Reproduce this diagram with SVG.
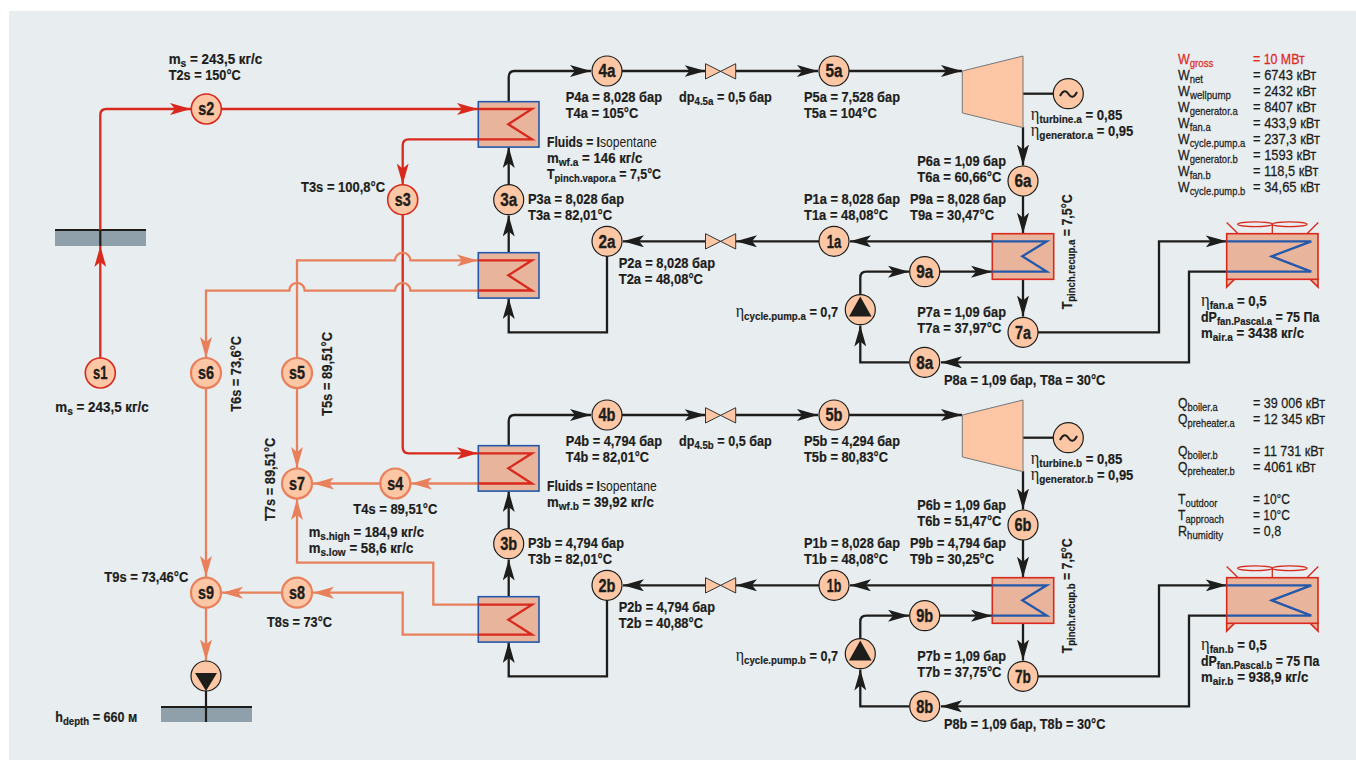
<svg xmlns="http://www.w3.org/2000/svg" width="1356" height="760" viewBox="0 0 1356 760">
<style>
text{font-family:"Liberation Sans","DejaVu Sans",sans-serif;fill:#1d1d1b}
.t{font-size:15px;font-weight:700;stroke:#1d1d1b;stroke-width:.2}
.r{font-size:15px;font-weight:400;stroke:#1d1d1b;stroke-width:.25}
.red{fill:#dd2a1e;stroke:#dd2a1e}
.s{font-size:11.5px}
.e{font-family:"Liberation Serif",serif;font-size:19px;font-weight:400;stroke:none}
.l{font-weight:400;stroke:none}
.n{font-size:17.5px;font-weight:700;text-anchor:middle;stroke:#1d1d1b;stroke-width:.35}
.c{fill:none;stroke-width:2.3}
.kc{stroke:#1d1d1b;marker-end:url(#ak)}
.hc{stroke:#d9291c;marker-end:url(#ah)}
.wc{stroke:#e8805c;marker-end:url(#aw)}
.pl{stroke:#1d1d1b;fill:none;stroke-width:2.3}
.nk{fill:#fdc6a4;stroke:#1d1d1b;stroke-width:1.2}
.nh{fill:#fdc6a4;stroke:#d9291c;stroke-width:1.6}
.nw{fill:#fdc6a4;stroke:#e8805c;stroke-width:2.2}
.hx{fill:#e8b59c;stroke:#2458ab;stroke-width:1.6}
.hr{fill:#e8b59c;stroke:#d9291c;stroke-width:1.6}
.cr{fill:none;stroke:#d9291c;stroke-width:2.3}
.cb{fill:none;stroke:#2458ab;stroke-width:2.3}
.v{fill:#fdc6a4;stroke:#333;stroke-width:1}
.f{fill:none;stroke:#d9291c;stroke-width:1.3}
.g{fill:#90a0aa}
.d{stroke:#1d1d1b;stroke-width:2.2}
</style>
<defs>
<marker id="ak" markerUnits="userSpaceOnUse" markerWidth="21" markerHeight="12" viewBox="0 0 21 12" refX="21" refY="6" orient="auto"><path d="M21,6 L0,0 L5,6 L0,12 Z" fill="#1d1d1b"/></marker>
<marker id="ah" markerUnits="userSpaceOnUse" markerWidth="21" markerHeight="12" viewBox="0 0 21 12" refX="21" refY="6" orient="auto"><path d="M21,6 L0,0 L5,6 L0,12 Z" fill="#d9291c"/></marker>
<marker id="aw" markerUnits="userSpaceOnUse" markerWidth="21" markerHeight="12" viewBox="0 0 21 12" refX="21" refY="6" orient="auto"><path d="M21,6 L0,0 L5,6 L0,12 Z" fill="#e8805c"/></marker>
</defs>
<rect x="9" y="11" width="1347" height="749" fill="#e8edf0"/>

<g id="ground-top"><rect class="g" x="55" y="230" width="91" height="16"/><path class="d" d="M55,230H146M100.3,230V246"/></g>
<g id="ground-bottom"><rect class="g" x="161" y="707" width="91" height="15"/><path class="d" d="M161,707H252M206,691V722"/></g>

<g id="connectors">
<path class="c hc" d="M100.3,358V246"/>
<path class="c hc" d="M100.3,230V115Q100.3,109 106.3,109H191"/>
<path class="c hc" d="M221,109H478"/>
<path class="c hc" d="M478,139.3H408.7Q402.7,139.3 402.7,145.3V184.5"/>
<path class="c hc" d="M402.7,215V447.3Q402.7,453.3 408.7,453.3H478"/>
<path class="c wc" d="M297,358V260.4H395A7.7,7.7 0 0 1 410.4,260.4H478"/>
<path class="c wc" d="M478,290.6H410.4A7.7,7.7 0 0 0 395,290.6H304.7A7.7,7.7 0 0 0 289.3,290.6H206V358"/>
<path class="c wc" d="M206,388V577"/>
<path class="c wc" d="M297,388V468"/>
<path class="c wc" d="M478,483.5H411"/>
<path class="c wc" d="M380,483.5H313"/>
<path class="c wc" d="M478,604.7H433.3V562.7H297V499"/>
<path class="c wc" d="M478,634.7H402.7V592.7H313"/>
<path class="c wc" d="M282,592.7H222"/>
<path class="c wc" d="M206,608V660.5"/>
<path class="c kc" d="M508.7,101.7V77Q508.7,71 514.7,71H591"/>
<path class="c kc" d="M622,71H705.5"/>
<path class="c kc" d="M736,71H818"/>
<path class="c kc" d="M849,71H962"/>
<path class="pl" d="M1023,93.7H1053"/>
<path class="c kc" d="M1023,127V165.5"/>
<path class="c kc" d="M1023,196V233.7"/>
<path class="c kc" d="M992.3,241.3H850"/>
<path class="c kc" d="M819,241.3H736"/>
<path class="c kc" d="M705,241.3H623"/>
<path class="c kc" d="M607,256V332.4H508.7V298"/>
<path class="c kc" d="M508.7,252.7V215.5"/>
<path class="c kc" d="M508.7,184.5V147"/>
<path class="c kc" d="M860.3,295V277.7Q860.3,271.7 866.3,271.7H909"/>
<path class="c kc" d="M940,271.7H992"/>
<path class="c kc" d="M1023,279.3V316.5"/>
<path class="c kc" d="M1038,332.3H1159V241.3H1226.7"/>
<path class="c kc" d="M1226.7,271.7H1189V362.3H941"/>
<path class="c kc" d="M909,362.3H860.3V325.5"/>
<path class="c kc" d="M508.7,445.7V421Q508.7,415 514.7,415H591"/>
<path class="c kc" d="M622,415H705.5"/>
<path class="c kc" d="M736,415H818"/>
<path class="c kc" d="M849,415H962"/>
<path class="pl" d="M1023,437.7H1053"/>
<path class="c kc" d="M1023,471V509.5"/>
<path class="c kc" d="M1023,540V577.7"/>
<path class="c kc" d="M992.3,585.3H850"/>
<path class="c kc" d="M819,585.3H736"/>
<path class="c kc" d="M705,585.3H623"/>
<path class="c kc" d="M607,600V676.4H508.7V642"/>
<path class="c kc" d="M508.7,596.7V559.5"/>
<path class="c kc" d="M508.7,528.5V491"/>
<path class="c kc" d="M860.3,639V621.7Q860.3,615.7 866.3,615.7H909"/>
<path class="c kc" d="M940,615.7H992"/>
<path class="c kc" d="M1023,623.3V660.5"/>
<path class="c kc" d="M1038,676.3H1159V585.3H1226.7"/>
<path class="c kc" d="M1226.7,615.7H1189V706.3H941"/>
<path class="c kc" d="M909,706.3H860.3V669.5"/>
</g>

<g id="hx-boiler-a"><rect class="hx" x="478.3" y="101.7" width="60.7" height="45.4"/><path class="cr" d="M478.3,109H532L508.3,124.3L532,139.3H478.3"/></g>
<g id="hx-preheater-a"><rect class="hx" x="478.3" y="252.7" width="60.7" height="45.4"/><path class="cr" d="M478.3,260.3H532L508.3,275.3L532,290.5H478.3"/></g>
<g id="hx-boiler-b"><rect class="hx" x="478.3" y="445.7" width="60.7" height="45.4"/><path class="cr" d="M478.3,453.3H532L508.3,468.3L532,483.5H478.3"/></g>
<g id="hx-preheater-b"><rect class="hx" x="478.3" y="596.7" width="60.7" height="45.4"/><path class="cr" d="M478.3,604.7H532L508.3,619.7L532,634.7H478.3"/></g>
<g id="hx-recup-a"><rect class="hr" x="992.3" y="233.7" width="61.4" height="45.6"/><path class="cb" d="M992.3,241.3H1046.7L1022.3,256.3L1046.7,271.6H992.3"/></g>
<g id="hx-recup-b"><rect class="hr" x="992.3" y="577.7" width="61.4" height="45.6"/><path class="cb" d="M992.3,585.3H1046.7L1022.3,600.3L1046.7,615.6H992.3"/></g>

<g id="cooler-a"><path class="f" d="M1272.3,234V224M1238.3,234L1226.7,222.5M1306.7,234L1318.3,222.5"/><ellipse class="f" cx="1255" cy="224.3" rx="17.3" ry="2.4"/><ellipse class="f" cx="1289.7" cy="224.3" rx="17.3" ry="2.4"/><path class="hr" d="M1226.7,279.3V287L1234.5,279.3ZM1318,279.3V287L1310.2,279.3Z"/><rect class="hr" x="1226.7" y="233.7" width="91.3" height="45.6"/><path class="cb" d="M1226.7,241.3H1311.3L1271.7,256.3L1311.3,271.6H1226.7"/></g>
<g id="cooler-b"><path class="f" d="M1272.3,578V568M1238.3,578L1226.7,566.5M1306.7,578L1318.3,566.5"/><ellipse class="f" cx="1255" cy="568.3" rx="17.3" ry="2.4"/><ellipse class="f" cx="1289.7" cy="568.3" rx="17.3" ry="2.4"/><path class="hr" d="M1226.7,623.3V631L1234.5,623.3ZM1318,623.3V631L1310.2,623.3Z"/><rect class="hr" x="1226.7" y="577.7" width="91.3" height="45.6"/><path class="cb" d="M1226.7,585.3H1311.3L1271.7,600.3L1311.3,615.6H1226.7"/></g>

<g id="valve-4a5a"><path class="v" d="M705.5,63.7L735.7,79V63.7L705.5,79Z"/></g>
<g id="valve-1a2a"><path class="v" d="M705.5,233.7L735.7,249V233.7L705.5,249Z"/></g>
<g id="valve-4b5b"><path class="v" d="M705.5,407.7L735.7,423V407.7L705.5,423Z"/></g>
<g id="valve-1b2b"><path class="v" d="M705.5,577.7L735.7,593V577.7L705.5,593Z"/></g>

<g id="turbine-a"><path d="M962.3,71L1023,56V127.7L962.3,113Z" fill="#fdc6a4" stroke="#777" stroke-width="1"/></g>
<g id="turbine-b"><path d="M962.3,415L1023,400V471.7L962.3,457Z" fill="#fdc6a4" stroke="#777" stroke-width="1"/></g>
<g id="gen-a"><circle class="nk" cx="1068.3" cy="93.7" r="15"/><path d="M1060,96C1063,90 1066,90 1068.5,94C1071,98 1074,98 1077,92" fill="none" stroke="#1d1d1b" stroke-width="2"/></g>
<g id="gen-b"><circle class="nk" cx="1068.3" cy="437.7" r="15"/><path d="M1060,440C1063,434 1066,434 1068.5,438C1071,442 1074,442 1077,436" fill="none" stroke="#1d1d1b" stroke-width="2"/></g>

<g id="pump-a"><circle class="nk" cx="860.3" cy="309.7" r="15"/><path d="M860.3,296.5L871.5,316.5H849Z" fill="#1d1d1b"/></g>
<g id="pump-b"><circle class="nk" cx="860.3" cy="653.7" r="15"/><path d="M860.3,640.5L871.5,660.5H849Z" fill="#1d1d1b"/></g>
<g id="pump-well"><circle class="nk" cx="206" cy="676" r="15"/><path d="M195,673H217L206,691Z" fill="#1d1d1b"/></g>

<g id="n-s1"><circle class="nh" cx="100.3" cy="373" r="15"/><text class="n" x="100.3" y="379" textLength="14.5" lengthAdjust="spacingAndGlyphs">s1</text></g>
<g id="n-s2"><circle class="nh" cx="206.3" cy="109" r="15"/><text class="n" x="206.3" y="115" textLength="16" lengthAdjust="spacingAndGlyphs">s2</text></g>
<g id="n-s3"><circle class="nh" cx="402.7" cy="199.7" r="15"/><text class="n" x="402.7" y="205.7" textLength="16" lengthAdjust="spacingAndGlyphs">s3</text></g>
<g id="n-s4"><circle class="nw" cx="395.3" cy="483.5" r="15"/><text class="n" x="395.3" y="489.5" textLength="16" lengthAdjust="spacingAndGlyphs">s4</text></g>
<g id="n-s5"><circle class="nw" cx="297" cy="373" r="15"/><text class="n" x="297" y="379" textLength="16" lengthAdjust="spacingAndGlyphs">s5</text></g>
<g id="n-s6"><circle class="nw" cx="206" cy="373" r="15"/><text class="n" x="206" y="379" textLength="16" lengthAdjust="spacingAndGlyphs">s6</text></g>
<g id="n-s7"><circle class="nw" cx="297" cy="483.5" r="15"/><text class="n" x="297" y="489.5" textLength="16" lengthAdjust="spacingAndGlyphs">s7</text></g>
<g id="n-s8"><circle class="nw" cx="297" cy="592.7" r="15"/><text class="n" x="297" y="598.7" textLength="16" lengthAdjust="spacingAndGlyphs">s8</text></g>
<g id="n-s9"><circle class="nw" cx="206" cy="592.7" r="15"/><text class="n" x="206" y="598.7" textLength="16" lengthAdjust="spacingAndGlyphs">s9</text></g>

<g id="n-1a"><circle class="nk" cx="834" cy="241.3" r="15"/><text class="n" x="834" y="247.5" textLength="14.5" lengthAdjust="spacingAndGlyphs">1a</text></g>
<g id="n-2a"><circle class="nk" cx="607" cy="241.3" r="15"/><text class="n" x="607" y="247.5" textLength="17" lengthAdjust="spacingAndGlyphs">2a</text></g>
<g id="n-3a"><circle class="nk" cx="508.7" cy="199.7" r="15"/><text class="n" x="508.7" y="206" textLength="17" lengthAdjust="spacingAndGlyphs">3a</text></g>
<g id="n-4a"><circle class="nk" cx="607" cy="71" r="15"/><text class="n" x="607" y="77.2" textLength="17" lengthAdjust="spacingAndGlyphs">4a</text></g>
<g id="n-5a"><circle class="nk" cx="834" cy="71" r="15"/><text class="n" x="834" y="77.2" textLength="17" lengthAdjust="spacingAndGlyphs">5a</text></g>
<g id="n-6a"><circle class="nk" cx="1023" cy="181" r="15"/><text class="n" x="1023" y="187.2" textLength="17" lengthAdjust="spacingAndGlyphs">6a</text></g>
<g id="n-7a"><circle class="nk" cx="1023" cy="332.3" r="15"/><text class="n" x="1023" y="338.5" textLength="16" lengthAdjust="spacingAndGlyphs">7a</text></g>
<g id="n-8a"><circle class="nk" cx="924.7" cy="362.3" r="15"/><text class="n" x="924.7" y="368.5" textLength="17" lengthAdjust="spacingAndGlyphs">8a</text></g>
<g id="n-9a"><circle class="nk" cx="924.7" cy="271.7" r="15"/><text class="n" x="924.7" y="278" textLength="17" lengthAdjust="spacingAndGlyphs">9a</text></g>
<g id="n-1b"><circle class="nk" cx="834" cy="585.3" r="15"/><text class="n" x="834" y="591.5" textLength="14.5" lengthAdjust="spacingAndGlyphs">1b</text></g>
<g id="n-2b"><circle class="nk" cx="607" cy="585.3" r="15"/><text class="n" x="607" y="591.5" textLength="17" lengthAdjust="spacingAndGlyphs">2b</text></g>
<g id="n-3b"><circle class="nk" cx="508.7" cy="543.7" r="15"/><text class="n" x="508.7" y="550" textLength="17" lengthAdjust="spacingAndGlyphs">3b</text></g>
<g id="n-4b"><circle class="nk" cx="607" cy="415" r="15"/><text class="n" x="607" y="421.2" textLength="17" lengthAdjust="spacingAndGlyphs">4b</text></g>
<g id="n-5b"><circle class="nk" cx="834" cy="415" r="15"/><text class="n" x="834" y="421.2" textLength="17" lengthAdjust="spacingAndGlyphs">5b</text></g>
<g id="n-6b"><circle class="nk" cx="1023" cy="525" r="15"/><text class="n" x="1023" y="531.2" textLength="17" lengthAdjust="spacingAndGlyphs">6b</text></g>
<g id="n-7b"><circle class="nk" cx="1023" cy="676.3" r="15"/><text class="n" x="1023" y="682.5" textLength="16" lengthAdjust="spacingAndGlyphs">7b</text></g>
<g id="n-8b"><circle class="nk" cx="924.7" cy="706.3" r="15"/><text class="n" x="924.7" y="712.5" textLength="17" lengthAdjust="spacingAndGlyphs">8b</text></g>
<g id="n-9b"><circle class="nk" cx="924.7" cy="615.7" r="15"/><text class="n" x="924.7" y="622" textLength="17" lengthAdjust="spacingAndGlyphs">9b</text></g>

<g id="labels-brine">
<text class="t" transform="translate(168.7,64) scale(.86,1)" textLength="108.8" lengthAdjust="spacingAndGlyphs">m<tspan class="s" dy="3">s</tspan><tspan dy="-3"> = 243,5 кг/с</tspan></text>
<text class="t" transform="translate(168.7,80) scale(.86,1)" textLength="83.7" lengthAdjust="spacingAndGlyphs">T2s = 150°C</text>
<text class="t" transform="translate(301,192.3) scale(.86,1)" textLength="97.7" lengthAdjust="spacingAndGlyphs">T3s = 100,8°C</text>
<text class="t" transform="translate(240.5,411.7) rotate(-90) scale(.86,1)" textLength="88" lengthAdjust="spacingAndGlyphs">T6s = 73,6°C</text>
<text class="t" transform="translate(331.5,416) rotate(-90) scale(.86,1)" textLength="97.7" lengthAdjust="spacingAndGlyphs">T5s = 89,51°C</text>
<text class="t" transform="translate(275.3,521) rotate(-90) scale(.86,1)" textLength="96.9" lengthAdjust="spacingAndGlyphs">T7s = 89,51°C</text>
<text class="t" transform="translate(55.3,411.7) scale(.86,1)" textLength="108.6" lengthAdjust="spacingAndGlyphs">m<tspan class="s" dy="3">s</tspan><tspan dy="-3"> = 243,5 кг/с</tspan></text>
<text class="t" transform="translate(353.3,514.3) scale(.86,1)" textLength="97.7" lengthAdjust="spacingAndGlyphs">T4s = 89,51°C</text>
<text class="t" transform="translate(308.7,536.7) scale(.86,1)" textLength="134.1" lengthAdjust="spacingAndGlyphs">m<tspan class="s" dy="3">s.high</tspan><tspan dy="-3"> = 184,9 кг/с</tspan></text>
<text class="t" transform="translate(308.7,552.7) scale(.86,1)" textLength="121.6" lengthAdjust="spacingAndGlyphs">m<tspan class="s" dy="3">s.low</tspan><tspan dy="-3"> = 58,6 кг/с</tspan></text>
<text class="t" transform="translate(104.3,582) scale(.86,1)" textLength="97.7" lengthAdjust="spacingAndGlyphs">T9s = 73,46°C</text>
<text class="t" transform="translate(267,626.7) scale(.86,1)" textLength="75.6" lengthAdjust="spacingAndGlyphs">T8s = 73°C</text>
<text class="t" transform="translate(55.3,721.7) scale(.86,1)" textLength="95.3" lengthAdjust="spacingAndGlyphs">h<tspan class="s" dy="3">depth</tspan><tspan dy="-3"> = 660 м</tspan></text>
</g>

<g id="labels-a">
<text class="t" transform="translate(565.7,101.7) scale(.86,1)" textLength="112" lengthAdjust="spacingAndGlyphs">P4a = 8,028 бар</text>
<text class="t" transform="translate(565.7,117.7) scale(.86,1)" textLength="84.4" lengthAdjust="spacingAndGlyphs">T4a = 105°C</text>
<text class="t" transform="translate(679,101.7) scale(.86,1)" textLength="107.8" lengthAdjust="spacingAndGlyphs">dp<tspan class="s" dy="3">4.5a</tspan><tspan dy="-3"> = 0,5 бар</tspan></text>
<text class="t" transform="translate(804,101.7) scale(.86,1)" textLength="111.6" lengthAdjust="spacingAndGlyphs">P5a = 7,528 бар</text>
<text class="t" transform="translate(804,117.7) scale(.86,1)" textLength="84.5" lengthAdjust="spacingAndGlyphs">T5a = 104°C</text>
<text class="t" transform="translate(547,147.3) scale(.86,1)" textLength="127.6" lengthAdjust="spacingAndGlyphs">Fluids = I<tspan class="l">sopentane</tspan></text>
<text class="t" transform="translate(547,163.3) scale(.86,1)" textLength="110.8" lengthAdjust="spacingAndGlyphs">m<tspan class="s" dy="3">wf.a</tspan><tspan dy="-3"> = 146 кг/с</tspan></text>
<text class="t" transform="translate(547,179) scale(.86,1)" textLength="132.6" lengthAdjust="spacingAndGlyphs">T<tspan class="s" dy="3">pinch.vapor.a</tspan><tspan dy="-3"> = 7,5°C</tspan></text>
<text class="t" transform="translate(528,204) scale(.86,1)" textLength="111.6" lengthAdjust="spacingAndGlyphs">P3a = 8,028 бар</text>
<text class="t" transform="translate(528,220) scale(.86,1)" textLength="97.7" lengthAdjust="spacingAndGlyphs">T3a = 82,01°C</text>
<text class="t" transform="translate(804,204) scale(.86,1)" textLength="111.6" lengthAdjust="spacingAndGlyphs">P1a = 8,028 бар</text>
<text class="t" transform="translate(804,220) scale(.86,1)" textLength="97.7" lengthAdjust="spacingAndGlyphs">T1a = 48,08°C</text>
<text class="t" transform="translate(618.7,268.3) scale(.86,1)" textLength="112" lengthAdjust="spacingAndGlyphs">P2a = 8,028 бар</text>
<text class="t" transform="translate(618.7,284.3) scale(.86,1)" textLength="98" lengthAdjust="spacingAndGlyphs">T2a = 48,08°C</text>
<text class="t" transform="translate(735.7,316.7) scale(.86,1)" textLength="119" lengthAdjust="spacingAndGlyphs"><tspan class="e">η</tspan><tspan class="s" dy="3">cycle.pump.a</tspan><tspan dy="-3"> = 0,7</tspan></text>
<text class="t" transform="translate(1030.7,120.3) scale(.86,1)" textLength="106.5" lengthAdjust="spacingAndGlyphs"><tspan class="e">η</tspan><tspan class="s" dy="3">turbine.a</tspan><tspan dy="-3"> = 0,85</tspan></text>
<text class="t" transform="translate(1030.7,136.3) scale(.86,1)" textLength="119.3" lengthAdjust="spacingAndGlyphs"><tspan class="e">η</tspan><tspan class="s" dy="3">generator.a</tspan><tspan dy="-3"> = 0,95</tspan></text>
<text class="t" transform="translate(917.3,166) scale(.86,1)" textLength="103.1" lengthAdjust="spacingAndGlyphs">P6a = 1,09 бар</text>
<text class="t" transform="translate(917.3,182) scale(.86,1)" textLength="97.7" lengthAdjust="spacingAndGlyphs">T6a = 60,66°C</text>
<text class="t" transform="translate(910,204) scale(.86,1)" textLength="111.6" lengthAdjust="spacingAndGlyphs">P9a = 8,028 бар</text>
<text class="t" transform="translate(910,220) scale(.86,1)" textLength="97.7" lengthAdjust="spacingAndGlyphs">T9a = 30,47°C</text>
<text class="t" transform="translate(1072,309.3) rotate(-90) scale(.86,1)" textLength="133.7" lengthAdjust="spacingAndGlyphs">T<tspan class="s" dy="3">pinch.recup.a</tspan><tspan dy="-3"> = 7,5°C</tspan></text>
<text class="t" transform="translate(917.3,317) scale(.86,1)" textLength="103.1" lengthAdjust="spacingAndGlyphs">P7a = 1,09 бар</text>
<text class="t" transform="translate(917.3,333) scale(.86,1)" textLength="97.7" lengthAdjust="spacingAndGlyphs">T7a = 37,97°C</text>
<text class="t" transform="translate(944,385) scale(.86,1)" textLength="187.6" lengthAdjust="spacingAndGlyphs">P8a = 1,09 бар, T8a = 30°C</text>
<text class="t" transform="translate(1201,305.7) scale(.86,1)" textLength="76.4" lengthAdjust="spacingAndGlyphs"><tspan class="e">η</tspan><tspan class="s" dy="3">fan.a</tspan><tspan dy="-3"> = 0,5</tspan></text>
<text class="t" transform="translate(1201,321.7) scale(.86,1)" textLength="137.6" lengthAdjust="spacingAndGlyphs">dP<tspan class="s" dy="3">fan.Pascal.a</tspan><tspan dy="-3"> = 75 Па</tspan></text>
<text class="t" transform="translate(1201,337.7) scale(.86,1)" textLength="119.8" lengthAdjust="spacingAndGlyphs">m<tspan class="s" dy="3">air.a</tspan><tspan dy="-3"> = 3438 кг/с</tspan></text>
</g>

<g id="labels-b">
<text class="t" transform="translate(565.7,445.7) scale(.86,1)" textLength="112" lengthAdjust="spacingAndGlyphs">P4b = 4,794 бар</text>
<text class="t" transform="translate(565.7,461.7) scale(.86,1)" textLength="96.9" lengthAdjust="spacingAndGlyphs">T4b = 82,01°C</text>
<text class="t" transform="translate(679,445.7) scale(.86,1)" textLength="107.8" lengthAdjust="spacingAndGlyphs">dp<tspan class="s" dy="3">4.5b</tspan><tspan dy="-3"> = 0,5 бар</tspan></text>
<text class="t" transform="translate(804,445.7) scale(.86,1)" textLength="111.6" lengthAdjust="spacingAndGlyphs">P5b = 4,294 бар</text>
<text class="t" transform="translate(804,461.7) scale(.86,1)" textLength="97.7" lengthAdjust="spacingAndGlyphs">T5b = 80,83°C</text>
<text class="t" transform="translate(547,491.3) scale(.86,1)" textLength="127.6" lengthAdjust="spacingAndGlyphs">Fluids = I<tspan class="l">sopentane</tspan></text>
<text class="t" transform="translate(547,507.3) scale(.86,1)" textLength="124.1" lengthAdjust="spacingAndGlyphs">m<tspan class="s" dy="3">wf.b</tspan><tspan dy="-3"> = 39,92 кг/с</tspan></text>
<text class="t" transform="translate(528,548) scale(.86,1)" textLength="111.6" lengthAdjust="spacingAndGlyphs">P3b = 4,794 бар</text>
<text class="t" transform="translate(528,564) scale(.86,1)" textLength="97.7" lengthAdjust="spacingAndGlyphs">T3b = 82,01°C</text>
<text class="t" transform="translate(804,548) scale(.86,1)" textLength="111.6" lengthAdjust="spacingAndGlyphs">P1b = 8,028 бар</text>
<text class="t" transform="translate(804,564) scale(.86,1)" textLength="97.7" lengthAdjust="spacingAndGlyphs">T1b = 48,08°C</text>
<text class="t" transform="translate(618.7,612.3) scale(.86,1)" textLength="112" lengthAdjust="spacingAndGlyphs">P2b = 4,794 бар</text>
<text class="t" transform="translate(618.7,628.3) scale(.86,1)" textLength="98" lengthAdjust="spacingAndGlyphs">T2b = 40,88°C</text>
<text class="t" transform="translate(735.7,660.7) scale(.86,1)" textLength="119" lengthAdjust="spacingAndGlyphs"><tspan class="e">η</tspan><tspan class="s" dy="3">cycle.pump.b</tspan><tspan dy="-3"> = 0,7</tspan></text>
<text class="t" transform="translate(1030.7,464.3) scale(.86,1)" textLength="106.5" lengthAdjust="spacingAndGlyphs"><tspan class="e">η</tspan><tspan class="s" dy="3">turbine.b</tspan><tspan dy="-3"> = 0,85</tspan></text>
<text class="t" transform="translate(1030.7,480.3) scale(.86,1)" textLength="119.3" lengthAdjust="spacingAndGlyphs"><tspan class="e">η</tspan><tspan class="s" dy="3">generator.b</tspan><tspan dy="-3"> = 0,95</tspan></text>
<text class="t" transform="translate(917.3,510) scale(.86,1)" textLength="103.1" lengthAdjust="spacingAndGlyphs">P6b = 1,09 бар</text>
<text class="t" transform="translate(917.3,526) scale(.86,1)" textLength="97.7" lengthAdjust="spacingAndGlyphs">T6b = 51,47°C</text>
<text class="t" transform="translate(910,548) scale(.86,1)" textLength="111.6" lengthAdjust="spacingAndGlyphs">P9b = 4,794 бар</text>
<text class="t" transform="translate(910,564) scale(.86,1)" textLength="97.7" lengthAdjust="spacingAndGlyphs">T9b = 30,25°C</text>
<text class="t" transform="translate(1072,653.3) rotate(-90) scale(.86,1)" textLength="133.7" lengthAdjust="spacingAndGlyphs">T<tspan class="s" dy="3">pinch.recup.b</tspan><tspan dy="-3"> = 7,5°C</tspan></text>
<text class="t" transform="translate(917.3,661) scale(.86,1)" textLength="103.1" lengthAdjust="spacingAndGlyphs">P7b = 1,09 бар</text>
<text class="t" transform="translate(917.3,677) scale(.86,1)" textLength="97.7" lengthAdjust="spacingAndGlyphs">T7b = 37,75°C</text>
<text class="t" transform="translate(944,729) scale(.86,1)" textLength="187.6" lengthAdjust="spacingAndGlyphs">P8b = 1,09 бар, T8b = 30°C</text>
<text class="t" transform="translate(1201,649.7) scale(.86,1)" textLength="76.4" lengthAdjust="spacingAndGlyphs"><tspan class="e">η</tspan><tspan class="s" dy="3">fan.b</tspan><tspan dy="-3"> = 0,5</tspan></text>
<text class="t" transform="translate(1201,665.7) scale(.86,1)" textLength="137.6" lengthAdjust="spacingAndGlyphs">dP<tspan class="s" dy="3">fan.Pascal.b</tspan><tspan dy="-3"> = 75 Па</tspan></text>
<text class="t" transform="translate(1201,681.7) scale(.86,1)" textLength="124.8" lengthAdjust="spacingAndGlyphs">m<tspan class="s" dy="3">air.b</tspan><tspan dy="-3"> = 938,9 кг/с</tspan></text>
</g>

<g id="summary-table">
<text class="r red" transform="translate(1178,63.7) scale(.86,1)" textLength="41" lengthAdjust="spacingAndGlyphs">W<tspan class="s" dy="3">gross</tspan></text>
<text class="r red" transform="translate(1253,63.7) scale(.86,1)" textLength="60.1" lengthAdjust="spacingAndGlyphs">= 10 МВт</text>
<text class="r" transform="translate(1178,79.7) scale(.86,1)" textLength="29.1" lengthAdjust="spacingAndGlyphs">W<tspan class="s" dy="3">net</tspan></text>
<text class="r" transform="translate(1253,79.7) scale(.86,1)" textLength="73.6" lengthAdjust="spacingAndGlyphs">= 6743 кВт</text>
<text class="r" transform="translate(1178,95.7) scale(.86,1)" textLength="61.6" lengthAdjust="spacingAndGlyphs">W<tspan class="s" dy="3">wellpump</tspan></text>
<text class="r" transform="translate(1253,95.7) scale(.86,1)" textLength="73.6" lengthAdjust="spacingAndGlyphs">= 2432 кВт</text>
<text class="r" transform="translate(1178,111.7) scale(.86,1)" textLength="69.4" lengthAdjust="spacingAndGlyphs">W<tspan class="s" dy="3">generator.a</tspan></text>
<text class="r" transform="translate(1253,111.7) scale(.86,1)" textLength="73.6" lengthAdjust="spacingAndGlyphs">= 8407 кВт</text>
<text class="r" transform="translate(1178,127.7) scale(.86,1)" textLength="38" lengthAdjust="spacingAndGlyphs">W<tspan class="s" dy="3">fan.a</tspan></text>
<text class="r" transform="translate(1253,127.7) scale(.86,1)" textLength="77.9" lengthAdjust="spacingAndGlyphs">= 433,9 кВт</text>
<text class="r" transform="translate(1178,143.7) scale(.86,1)" textLength="78.3" lengthAdjust="spacingAndGlyphs">W<tspan class="s" dy="3">cycle.pump.a</tspan></text>
<text class="r" transform="translate(1253,143.7) scale(.86,1)" textLength="77.9" lengthAdjust="spacingAndGlyphs">= 237,3 кВт</text>
<text class="r" transform="translate(1178,159.7) scale(.86,1)" textLength="69.4" lengthAdjust="spacingAndGlyphs">W<tspan class="s" dy="3">generator.b</tspan></text>
<text class="r" transform="translate(1253,159.7) scale(.86,1)" textLength="73.6" lengthAdjust="spacingAndGlyphs">= 1593 кВт</text>
<text class="r" transform="translate(1178,175.7) scale(.86,1)" textLength="38" lengthAdjust="spacingAndGlyphs">W<tspan class="s" dy="3">fan.b</tspan></text>
<text class="r" transform="translate(1253,175.7) scale(.86,1)" textLength="75.9" lengthAdjust="spacingAndGlyphs">= 118,5 кВт</text>
<text class="r" transform="translate(1178,191.7) scale(.86,1)" textLength="78.3" lengthAdjust="spacingAndGlyphs">W<tspan class="s" dy="3">cycle.pump.b</tspan></text>
<text class="r" transform="translate(1253,191.7) scale(.86,1)" textLength="77.9" lengthAdjust="spacingAndGlyphs">= 34,65 кВт</text>

<text class="r" transform="translate(1178,407.7) scale(.86,1)" textLength="46.2" lengthAdjust="spacingAndGlyphs">Q<tspan class="s" dy="3">boiler.a</tspan></text>
<text class="r" transform="translate(1253,407.7) scale(.86,1)" textLength="83.7" lengthAdjust="spacingAndGlyphs">= 39 006 кВт</text>
<text class="r" transform="translate(1178,423.7) scale(.86,1)" textLength="65.9" lengthAdjust="spacingAndGlyphs">Q<tspan class="s" dy="3">preheater.a</tspan></text>
<text class="r" transform="translate(1253,423.7) scale(.86,1)" textLength="83.7" lengthAdjust="spacingAndGlyphs">= 12 345 кВт</text>
<text class="r" transform="translate(1178,456) scale(.86,1)" textLength="46.2" lengthAdjust="spacingAndGlyphs">Q<tspan class="s" dy="3">boiler.b</tspan></text>
<text class="r" transform="translate(1253,456) scale(.86,1)" textLength="82.6" lengthAdjust="spacingAndGlyphs">= 11 731 кВт</text>
<text class="r" transform="translate(1178,472) scale(.86,1)" textLength="65.9" lengthAdjust="spacingAndGlyphs">Q<tspan class="s" dy="3">preheater.b</tspan></text>
<text class="r" transform="translate(1253,472) scale(.86,1)" textLength="72.9" lengthAdjust="spacingAndGlyphs">= 4061 кВт</text>
<text class="r" transform="translate(1178,504) scale(.86,1)" textLength="45.7" lengthAdjust="spacingAndGlyphs">T<tspan class="s" dy="3">outdoor</tspan></text>
<text class="r" transform="translate(1253,504) scale(.86,1)" textLength="43" lengthAdjust="spacingAndGlyphs">= 10°C</text>
<text class="r" transform="translate(1178,520) scale(.86,1)" textLength="53.5" lengthAdjust="spacingAndGlyphs">T<tspan class="s" dy="3">approach</tspan></text>
<text class="r" transform="translate(1253,520) scale(.86,1)" textLength="43" lengthAdjust="spacingAndGlyphs">= 10°C</text>
<text class="r" transform="translate(1178,536) scale(.86,1)" textLength="52.3" lengthAdjust="spacingAndGlyphs">R<tspan class="s" dy="3">humidity</tspan></text>
<text class="r" transform="translate(1253,536) scale(.86,1)" textLength="32.9" lengthAdjust="spacingAndGlyphs">= 0,8</text>
</g>
</svg>
